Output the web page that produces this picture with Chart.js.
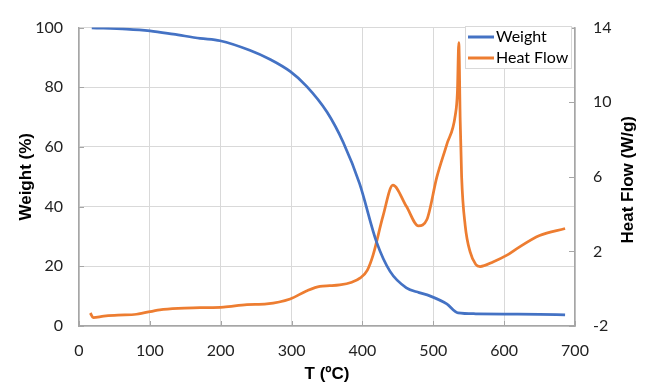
<!DOCTYPE html>
<html>
<head>
<meta charset="utf-8">
<script src="https://cdn.jsdelivr.net/npm/chart.js@4/dist/chart.umd.min.js"></script>
<style>
  body { margin: 0; background: #fff; }
  #wrap { width: 646px; height: 387px; position: relative; }
</style>
</head>
<body>
<div id="wrap"><canvas id="tgaChart"></canvas></div>
<script>
// TGA / DSC data
const weightT   = [18, 67, 100, 133, 171, 199, 241, 270, 298, 321, 350, 373, 396, 420, 439, 462, 480, 495, 519, 535, 560, 600, 650, 686];
const weightPct = [99.9, 99.5, 98.9, 97.8, 96.4, 95.6, 92.4, 89.3, 85.3, 80.4, 71.7, 61.5, 47.7, 28.1, 18.3, 12.8, 11.2, 10.1, 7.4, 4.4, 4.1, 4.0, 3.9, 3.7];

const heatT    = [16, 20, 35, 55, 81, 114, 140, 171, 204, 237, 265, 298, 321, 340, 354, 368, 385, 397, 407, 415, 429, 443, 462, 479, 491, 505, 519, 531, 534, 536, 538, 540, 545, 552, 560, 566, 585, 604, 618, 650, 686];
const heatFlow = [-1.3, -1.55, -1.47, -1.42, -1.37, -1.13, -1.05, -1.02, -0.99, -0.85, -0.81, -0.55, -0.12, 0.13, 0.16, 0.2, 0.35, 0.58, 1.0, 1.8, 3.89, 5.55, 4.42, 3.37, 3.71, 5.98, 7.73, 9.29, 10.5, 13.2, 9.0, 6.0, 3.4, 1.97, 1.3, 1.19, 1.45, 1.8, 2.15, 2.85, 3.23];

const xTicks = [0, 100, 200, 300, 400, 500, 600, 700];
const weightTicks = [0, 20, 40, 60, 80, 100];
const heatTicks = [-2, 2, 6, 10, 14];

const BLUE = '#4472c4';
const ORANGE = '#ed7d31';
const AXIS = '#a6a6a6';
const tickFont = { family: 'Lato', size: 16 };

// titles, inward tick marks and boxed legend
const decorPlugin = {
    id: 'decor',
    afterDraw(chart) {
        const ctx = chart.ctx;
        const area = chart.chartArea;
        const sx = chart.scales.x, sy = chart.scales.y, sy1 = chart.scales.y1;
        ctx.save();

        // tick marks pointing into the plot
        ctx.strokeStyle = AXIS;
        ctx.lineWidth = 1;
        ctx.beginPath();
        xTicks.forEach(v => {
            const px = Math.round(sx.getPixelForValue(v)) + 0.5;
            ctx.moveTo(px, area.bottom); ctx.lineTo(px, area.bottom - 5);
        });
        heatTicks.forEach(v => {
            const py = Math.round(sy1.getPixelForValue(v)) + 0.5;
            ctx.moveTo(area.right, py); ctx.lineTo(area.right - 6, py);
        });
        weightTicks.forEach(v => {
            const py = Math.round(sy.getPixelForValue(v)) + 0.5;
            ctx.moveTo(area.left, py); ctx.lineTo(area.left + 5, py);
        });
        ctx.stroke();

        // axis titles
        ctx.fillStyle = '#000';
        ctx.font = 'bold 17px "Liberation Sans", Arial, sans-serif';
        ctx.textAlign = 'center';
        ctx.textBaseline = 'middle';
        ctx.fillText('T (ºC)', (area.left + area.right) / 2, 374);

        const midY = (area.top + area.bottom) / 2;
        ctx.save();
        ctx.translate(26, midY);
        ctx.rotate(-Math.PI / 2);
        ctx.fillText('Weight (%)', 0, 0);
        ctx.restore();

        ctx.save();
        ctx.translate(628, midY + 3);
        ctx.rotate(-Math.PI / 2);
        ctx.fillText('Heat Flow (W/g)', 0, 0);
        ctx.restore();

        // legend box
        const bx = 465, by = 26, bw = 106, bh = 42;
        ctx.fillStyle = '#fff';
        ctx.fillRect(bx, by, bw, bh);
        ctx.strokeStyle = '#d9d9d9';
        ctx.strokeRect(bx + 0.5, by + 0.5, bw, bh);
        const rows = [['Weight', BLUE, 37], ['Heat Flow', ORANGE, 58]];
        ctx.font = '16px Lato, sans-serif';
        ctx.textAlign = 'left';
        rows.forEach(([label, color, y]) => {
            ctx.strokeStyle = color;
            ctx.lineWidth = 3;
            ctx.beginPath();
            ctx.moveTo(468, y); ctx.lineTo(494, y);
            ctx.stroke();
            ctx.fillStyle = '#000';
            ctx.fillText(label, 496, y);
        });
        ctx.restore();
    }
};

const toPoints = (xs, ys) => xs.map((x, i) => ({ x: x, y: ys[i] }));

new Chart(document.getElementById('tgaChart').getContext('2d'), {
    type: 'line',
    data: {
        datasets: [
            {
                label: 'Weight',
                data: toPoints(weightT, weightPct),
                yAxisID: 'y',
                borderColor: BLUE,
                borderWidth: 2.75,
                pointRadius: 0,
                cubicInterpolationMode: 'monotone'
            },
            {
                label: 'Heat Flow',
                data: toPoints(heatT, heatFlow),
                yAxisID: 'y1',
                borderColor: ORANGE,
                borderWidth: 2.75,
                pointRadius: 0,
                cubicInterpolationMode: 'monotone'
            }
        ]
    },
    options: {
        responsive: true,
        maintainAspectRatio: false,
        animation: false,
        layout: { padding: { top: 20, left: 0, right: 0, bottom: 0 } },
        plugins: {
            legend: { display: false },
            tooltip: { enabled: false }
        },
        scales: {
            x: {
                type: 'linear',
                min: 0, max: 700,
                afterBuildTicks: s => { s.ticks = xTicks.map(v => ({ value: v })); },
                ticks: { color: '#222', font: tickFont, padding: 15, maxRotation: 0 },
                grid: { color: '#d9d9d9', drawTicks: false },
                border: { color: AXIS, width: 1.5 },
                afterFit: s => { s.height = 61; }
            },
            y: {
                position: 'left',
                min: 0, max: 100,
                afterBuildTicks: s => { s.ticks = weightTicks.map(v => ({ value: v })); },
                ticks: { color: '#222', font: tickFont, padding: 16 },
                grid: { color: '#d9d9d9', drawTicks: false },
                border: { color: AXIS, width: 1.5 },
                afterFit: s => { s.width = 79; }
            },
            y1: {
                position: 'right',
                min: -2, max: 14,
                afterBuildTicks: s => { s.ticks = heatTicks.map(v => ({ value: v })); },
                ticks: { color: '#222', font: tickFont, padding: 18 },
                grid: { drawOnChartArea: false, drawTicks: false },
                border: { color: AXIS, width: 1.5 },
                afterFit: s => { s.width = 71; }
            }
        }
    },
    plugins: [decorPlugin]
});
</script>
</body>
</html>
